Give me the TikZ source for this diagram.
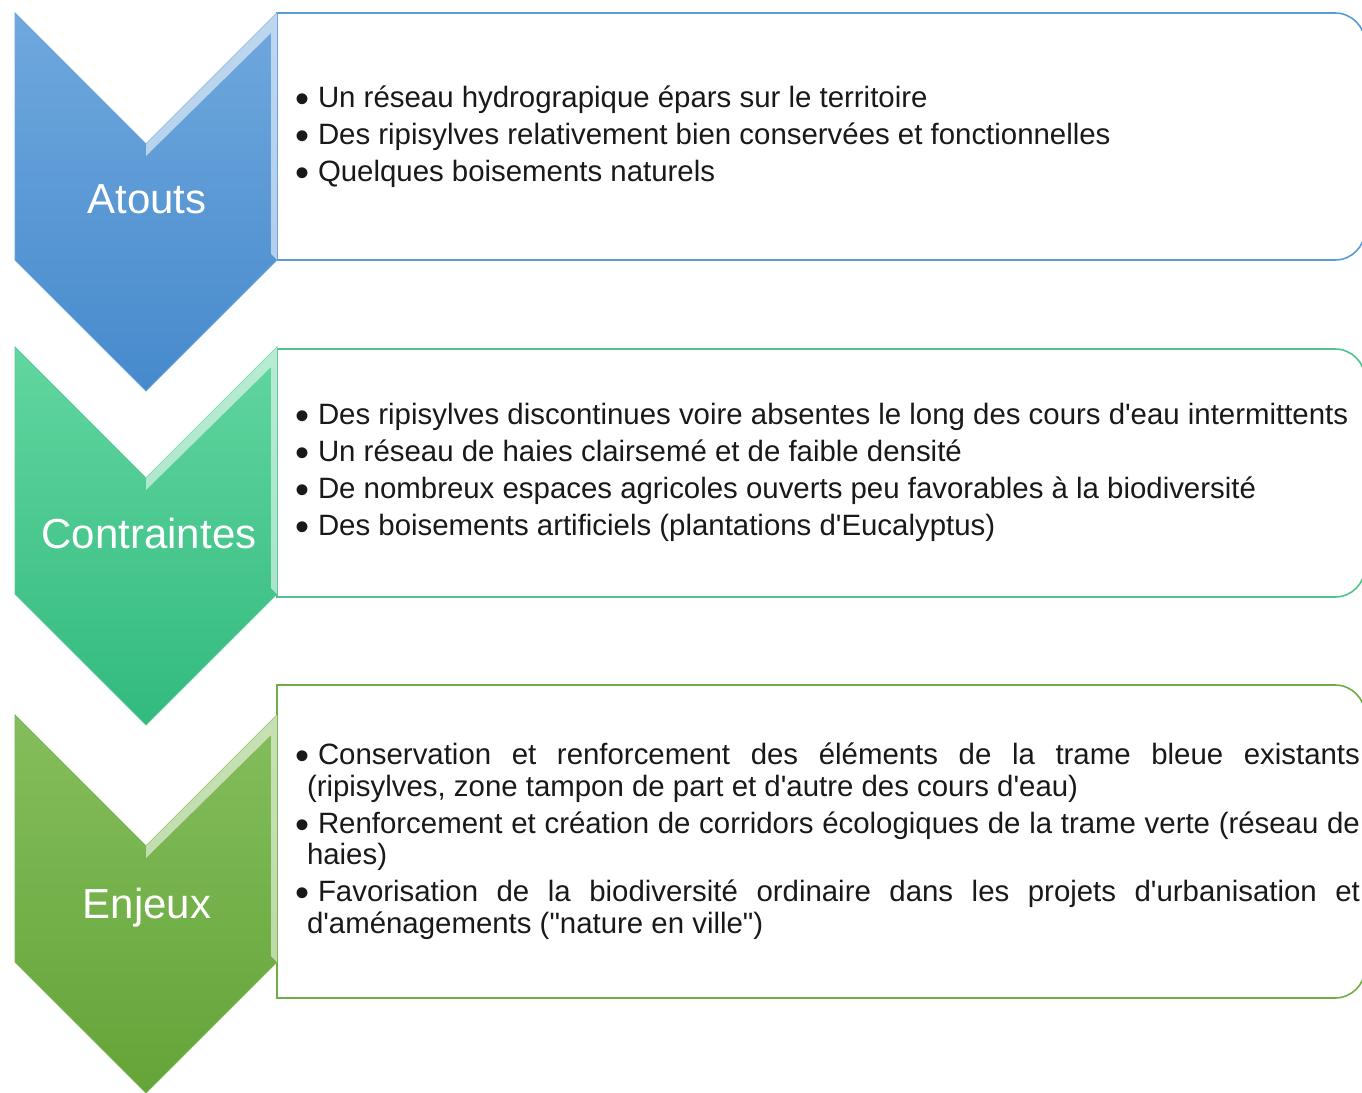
\documentclass[tikz,border=0pt]{standalone}
\usepackage{fontspec}
\setmainfont{Liberation Sans}[Ligatures=TeXOff]
\definecolor{blueTop}{RGB}{112,168,222}
\definecolor{blueBot}{RGB}{70,138,204}
\definecolor{tealTop}{RGB}{98,214,160}
\definecolor{tealBot}{RGB}{50,186,126}
\definecolor{greenTop}{RGB}{132,190,92}
\definecolor{greenBot}{RGB}{100,164,56}
\definecolor{blueLine}{RGB}{91,155,213}
\definecolor{tealLine}{RGB}{78,196,140}
\definecolor{greenLine}{RGB}{112,173,71}
\definecolor{txt}{RGB}{25,25,25}
\tikzset{
  body/.style={anchor=base west, inner sep=0pt, outer sep=0pt, text=txt,
    text height=21pt, text depth=6pt,
    font=\fontsize{29.4}{37}\selectfont},
  bul/.style={anchor=base west, inner sep=0pt, outer sep=0pt, text=txt,
    text height=18pt, text depth=0pt,
    font=\fontsize{40}{40}\selectfont},
  lbl/.style={anchor=base, inner sep=0pt, outer sep=0pt, text=white,
    font=\fontsize{42}{48}\selectfont},
  boxline/.style={line width=1.6pt, fill=white},
  bevel/.style={fill=white, fill opacity=0.55, draw=none}
}
\newcommand{\bu}{\raisebox{-5pt}{\smash{•}}}
\newcommand{\chevronpath}[1]{(15,#1) -- (146,#1+131) -- (277,#1) -- (277,#1+247) -- (146,#1+378) -- (15,#1+247) -- cycle}
\newcommand{\bevelpath}[1]{(146,#1+131) -- (277,#1) -- (277,#1+247) -- (271,#1+241) -- (271,#1+20) -- (146,#1+143) -- cycle}
\newcommand{\boxpath}[2]{(277,#1) -- (1335,#1) arc[start angle=-90, end angle=0, radius=30] -- (1365,#2-30) arc[start angle=0, end angle=90, radius=30] -- (277,#2) -- cycle}
\begin{document}
\begin{tikzpicture}[x=1pt,y=-1pt]
\useasboundingbox (0,0) rectangle (1362,1092);
% boxes
\draw[boxline, draw=blueLine] \boxpath{13}{260};
\draw[boxline, draw=tealLine] \boxpath{349}{597};
\draw[boxline, draw=greenLine] \boxpath{685}{998};
% chevrons
\shade[top color=blueTop, bottom color=blueBot, draw=blueLine!90!white, line width=0.8pt] \chevronpath{13};
\fill[bevel] \bevelpath{13};
\shade[top color=tealTop, bottom color=tealBot, draw=tealLine!90!white, line width=0.8pt] \chevronpath{347};
\fill[bevel] \bevelpath{347};
\shade[top color=greenTop, bottom color=greenBot, draw=greenLine!90!white, line width=0.8pt] \chevronpath{715};
\fill[bevel] \bevelpath{715};
% labels
\node[lbl] (l1) at (147,213) {Atouts};
\node[lbl] (l2) at (149,548) {Contraintes};
\node[lbl] (l3) at (147,918) {Enjeux};
% box 1
\node[bul] (b11) at (295,107) {\bu};
\node[body] (t11) at (318,107) {Un réseau hydrograpique épars sur le territoire};
\node[bul] (b12) at (295,144) {\bu};
\node[body] (t12) at (318,144) {Des ripisylves relativement bien conservées et fonctionnelles};
\node[bul] (b13) at (295,181) {\bu};
\node[body] (t13) at (318,181) {Quelques boisements naturels};
% box 2
\node[bul] (b21) at (295,424) {\bu};
\node[body] (t21) at (318,424) {Des ripisylves discontinues voire absentes le long des cours d'eau intermittents};
\node[bul] (b22) at (295,461) {\bu};
\node[body] (t22) at (318,461) {Un réseau de haies clairsemé et de faible densité};
\node[bul] (b23) at (295,498) {\bu};
\node[body] (t23) at (318,498) {De nombreux espaces agricoles ouverts peu favorables à la biodiversité};
\node[bul] (b24) at (295,535) {\bu};
\node[body] (t24) at (318,535) {Des boisements artificiels (plantations d'Eucalyptus)};
% box 3
\node[bul] (b31) at (295,764) {\bu};
\node[body] (t31) at (318,764) {\makebox[1042pt][s]{Conservation et renforcement des éléments de la trame bleue existants}};
\node[body] (t31b) at (307,796) {(ripisylves, zone tampon de part et d'autre des cours d'eau)};
\node[bul] (b32) at (295,833) {\bu};
\node[body] (t32) at (318,833) {\makebox[1042pt][s]{Renforcement et création de corridors écologiques de la trame verte (réseau de}};
\node[body] (t32b) at (307,864) {haies)};
\node[bul] (b33) at (295,901) {\bu};
\node[body] (t33) at (318,901) {\makebox[1042pt][s]{Favorisation de la biodiversité ordinaire dans les projets d'urbanisation et}};
\node[body] (t33b) at (307,933) {d'aménagements ("nature en ville")};
\end{tikzpicture}
\end{document}
